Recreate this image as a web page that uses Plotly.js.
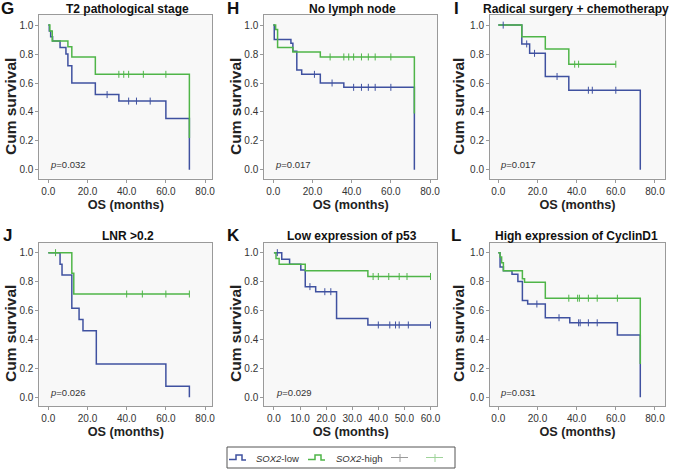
<!DOCTYPE html>
<html><head><meta charset="utf-8">
<script src="https://cdn.plot.ly/plotly-3.0.1.min.js"></script>
<style>html,body{margin:0;padding:0;background:#fff}#chart{width:674px;height:470px}</style>
</head><body><div id="chart"></div>
<script>
// ---- Panel G: T2 pathological stage ----
var gLowT  = [0, 0.5, 1.2, 2.2, 6, 9, 10, 12, 24, 36, 60, 72];
var gLowS  = [1, 0.96, 0.92, 0.89, 0.845, 0.80, 0.72, 0.60, 0.52, 0.475, 0.355, 0];
var gLowC  = [30, 41, 45, 52];
var gHighT = [0, 0.8, 2, 10, 12, 24, 72];
var gHighS = [1, 0.96, 0.89, 0.85, 0.78, 0.66, 0.22];
var gHighC = [36, 38.5, 41, 48.5, 60];
// ---- Panel H: No lymph node ----
var hLowT  = [0, 0.5, 9, 10, 12, 14.5, 24, 36, 72];
var hLowS  = [1, 0.90, 0.875, 0.82, 0.69, 0.66, 0.60, 0.57, 0];
var hLowC  = [21, 30, 41, 45, 48.5, 52, 60];
var hHighT = [0, 1.2, 2.2, 10, 24, 72];
var hHighS = [1, 0.97, 0.845, 0.815, 0.78, 0.39];
var hHighC = [29, 36, 38.5, 41, 45, 48.5, 52, 60];
// ---- Panel I: Radical surgery + chemotherapy ----
var iLowT  = [0, 12, 16, 24, 36, 72.5];
var iLowS  = [1, 0.87, 0.805, 0.645, 0.55, 0];
var iLowC  = [2.5, 14.5, 18.5, 30, 46, 48, 60];
var iHighT = [0, 12, 24, 36, 60];
var iHighS = [1, 0.92, 0.835, 0.73, 0.73];
var iHighC = [39, 41, 60];
// ---- Panel J: LNR >0.2 ----
var jLowT  = [0, 6, 7, 12, 15.7, 17.7, 24.5, 60, 72];
var jLowS  = [1, 0.92, 0.846, 0.615, 0.538, 0.46, 0.23, 0.077, 0];
var jLowC  = [];
var jHighT = [0, 12, 13, 72];
var jHighS = [1, 0.857, 0.714, 0.714];
var jHighC = [3.7, 40, 48, 60, 72];
// ---- Panel K: Low expression of p53 ----
var kLowT  = [0, 3, 6, 10.3, 12, 16, 24, 36, 60];
var kLowS  = [1, 0.955, 0.92, 0.88, 0.765, 0.73, 0.545, 0.50, 0.50];
var kLowC  = [1.3, 13.8, 19.5, 21.8, 40, 44.4, 46.6, 48, 51.5, 60];
var kHighT = [0, 0.8, 2, 12, 36, 60];
var kHighS = [1, 0.96, 0.92, 0.875, 0.835, 0.835];
var kHighC = [38, 40, 44, 48, 51, 60];
// ---- Panel L: High expression of CyclinD1 ----
var lLowT  = [0, 0.9, 2.6, 7, 10, 12.3, 15, 24, 36.5, 60.8, 72.5];
var lLowS  = [1, 0.90, 0.875, 0.85, 0.80, 0.67, 0.645, 0.55, 0.515, 0.43, 0];
var lLowC  = [19.7, 31, 41, 41.8, 46, 50.5];
var lHighT = [0, 0.9, 1.7, 2.6, 12.3, 13.4, 24, 72.5];
var lHighS = [1, 0.97, 0.93, 0.875, 0.82, 0.795, 0.685, 0.23];
var lHighC = [36, 40.5, 41.4, 46, 50.5, 60.8];

var panelLetters = ['G', 'H', 'I', 'J', 'K', 'L'];
var panelTitles = ['T2 pathological stage', 'No lymph node', 'Radical surgery + chemotherapy',
                   'LNR >0.2', 'Low expression of p53', 'High expression of CyclinD1'];
var pValues = ['0.032', '0.017', '0.017', '0.026', '0.029', '0.031'];
var xTickVals = [[0,20,40,60,80],[0,20,40,60,80],[0,20,40,60,80],[0,20,40,60,80],[0,10,20,30,40,50,60],[0,20,40,60,80]];
var seriesNames = ['<i>SOX2</i>-low', '<i>SOX2</i>-high'];
var yTitle = 'Cum survival', xTitle = 'OS (months)';

var panels = [
  {low: [gLowT, gLowS, gLowC], high: [gHighT, gHighS, gHighC]},
  {low: [hLowT, hLowS, hLowC], high: [hHighT, hHighS, hHighC]},
  {low: [iLowT, iLowS, iLowC], high: [iHighT, iHighS, iHighC]},
  {low: [jLowT, jLowS, jLowC], high: [jHighT, jHighS, jHighC]},
  {low: [kLowT, kLowS, kLowC], high: [kHighT, kHighS, kHighC]},
  {low: [lLowT, lLowS, lLowC], high: [lHighT, lHighS, lHighC]}
];

var BLUE = '#3f51a0', GREEN = '#4fb548';
var FONT = 'Liberation Sans, Arial, sans-serif';
var W = 674, H = 470;

function survAt(T, S, t) {
  var v = S[0];
  for (var i = 0; i < T.length; i++) { if (T[i] <= t) v = S[i]; }
  return v;
}
function px(x) { return x / W; }
function py(y) { return 1 - y / H; }

var colDom = [[0.0583, 0.3150], [0.3921, 0.6488], [0.7270, 0.9866]];
var rowDom = [[0.6202, 0.9681], [0.1362, 0.4840]];
var xRanges = [[-4.6, 83.7], [-4.6, 83.7], [-4.24, 85.1], [-4.6, 83.7], [-3.7, 62.6], [-4.24, 85.1]];
var titleCx = [127.5, 352, 576];
var yTitleX = [10, 235, 458];
var yTitleY = [107, 334];

var traces = [];
var layout = {
  width: W, height: H,
  margin: {l: 0, r: 0, t: 0, b: 0},
  paper_bgcolor: '#ffffff',
  plot_bgcolor: '#f8f8f8',
  font: {family: FONT, size: 10, color: '#333'},
  showlegend: false,
  annotations: [],
  shapes: []
};

panels.forEach(function (p, k) {
  var sfx = k === 0 ? '' : String(k + 1);
  var xa = 'x' + sfx, ya = 'y' + sfx;
  var groups = [[p.low, BLUE, 0], [p.high, GREEN, 1]];
  groups.forEach(function (g) {
    var d = g[0];
    traces.push({x: d[0], y: d[1], xaxis: xa, yaxis: ya, mode: 'lines', line: {shape: 'hv', color: g[1], width: 1.5},
                 name: seriesNames[g[2]], hoverinfo: 'skip'});
  });
  groups.forEach(function (g) {
    var d = g[0];
    var cy = d[2].map(function (t) { return survAt(d[0], d[1], t); });
    traces.push({x: d[2], y: cy, xaxis: xa, yaxis: ya, mode: 'markers', hoverinfo: 'skip',
                 marker: {symbol: 'line-ns', size: 5, color: g[1], line: {color: g[1], width: 1}}});
  });

  var col = k % 3, row = Math.floor(k / 3);
  layout['xaxis' + sfx] = {
    domain: colDom[col], anchor: ya, range: xRanges[k], tickvals: xTickVals[k], tickformat: '.1f',
    showgrid: false, zeroline: false, showline: true, mirror: true, linecolor: '#9a9a9a', linewidth: 1,
    ticks: 'outside', ticklen: 3, tickcolor: '#9a9a9a', tickfont: {family: FONT, size: 10, color: '#333'},
    title: {text: '<b>' + xTitle + '</b>', font: {family: FONT, size: 12.7, color: '#222'}, standoff: 4}
  };
  layout['yaxis' + sfx] = {
    domain: rowDom[row], anchor: xa, range: [-0.06, 1.07], tickvals: [0, 0.2, 0.4, 0.6, 0.8, 1.0], tickformat: '.1f',
    showgrid: false, zeroline: false, showline: true, mirror: true, linecolor: '#9a9a9a', linewidth: 1,
    ticks: 'outside', ticklen: 3, tickcolor: '#9a9a9a', tickfont: {family: FONT, size: 10, color: '#333'}
  };
  layout.annotations.push({xref: 'paper', yref: 'paper', x: px(yTitleX[col]), y: py(yTitleY[row]),
    text: '<b>' + yTitle + '</b>', textangle: -90, showarrow: false, xanchor: 'center', yanchor: 'middle',
    font: {family: FONT, size: 15.5, color: '#222'}});
  var ty = row === 0 ? py(9) : py(236);
  layout.annotations.push({xref: 'paper', yref: 'paper', x: px(titleCx[col]), y: ty, text: '<b>' + panelTitles[k] + '</b>',
    showarrow: false, xanchor: 'center', yanchor: 'middle', font: {family: FONT, size: 12, color: '#111'}});
  var lx = px([7, 233, 456][col]);
  layout.annotations.push({xref: 'paper', yref: 'paper', x: lx, y: ty, text: '<b>' + panelLetters[k] + '</b>',
    showarrow: false, xanchor: 'center', yanchor: 'middle', font: {family: FONT, size: 17, color: '#111'}});
  layout.annotations.push({xref: xa, yref: ya, x: 0, y: 0.035, text: '<i>p</i>=' + pValues[k],
    showarrow: false, xanchor: 'left', yanchor: 'middle', font: {family: FONT, size: 9.5, color: '#333'}});
});

// ---- bottom legend (drawn as decoration in paper space) ----
function pathPx(pts) {
  return pts.map(function (q, i) { return (i ? 'L' : 'M') + px(q[0]) + ',' + py(q[1]); }).join(' ');
}
layout.shapes.push({type: 'rect', xref: 'paper', yref: 'paper', x0: px(227), x1: px(455), y0: py(468), y1: py(447),
                    line: {color: '#555', width: 1}, fillcolor: '#fff', layer: 'below'});
function stepIcon(x0, col) {
  layout.shapes.push({type: 'path', xref: 'paper', yref: 'paper', line: {color: col, width: 1.5},
    path: pathPx([[x0, 459.5], [x0 + 7, 459.5], [x0 + 7, 455], [x0 + 13, 455], [x0 + 13, 460], [x0 + 17, 460]])});
}
function censorIcon(x0, col) {
  layout.shapes.push({type: 'line', xref: 'paper', yref: 'paper', line: {color: col, width: 1},
    x0: px(x0), x1: px(x0 + 17), y0: py(457.5), y1: py(457.5)});
  layout.shapes.push({type: 'line', xref: 'paper', yref: 'paper', line: {color: col, width: 1},
    x0: px(x0 + 9), x1: px(x0 + 9), y0: py(454), y1: py(462)});
}
stepIcon(229, BLUE);
stepIcon(308, GREEN);
censorIcon(391, '#9a9a9a');
censorIcon(426, '#9fd39a');
layout.annotations.push({xref: 'paper', yref: 'paper', x: px(254), y: py(458), text: seriesNames[0],
  showarrow: false, xanchor: 'left', yanchor: 'middle', font: {family: FONT, size: 9.5, color: '#333'}});
layout.annotations.push({xref: 'paper', yref: 'paper', x: px(334), y: py(458), text: seriesNames[1],
  showarrow: false, xanchor: 'left', yanchor: 'middle', font: {family: FONT, size: 9.5, color: '#333'}});

Plotly.newPlot('chart', traces, layout, {displayModeBar: false, staticPlot: true});
</script>
</body></html>
